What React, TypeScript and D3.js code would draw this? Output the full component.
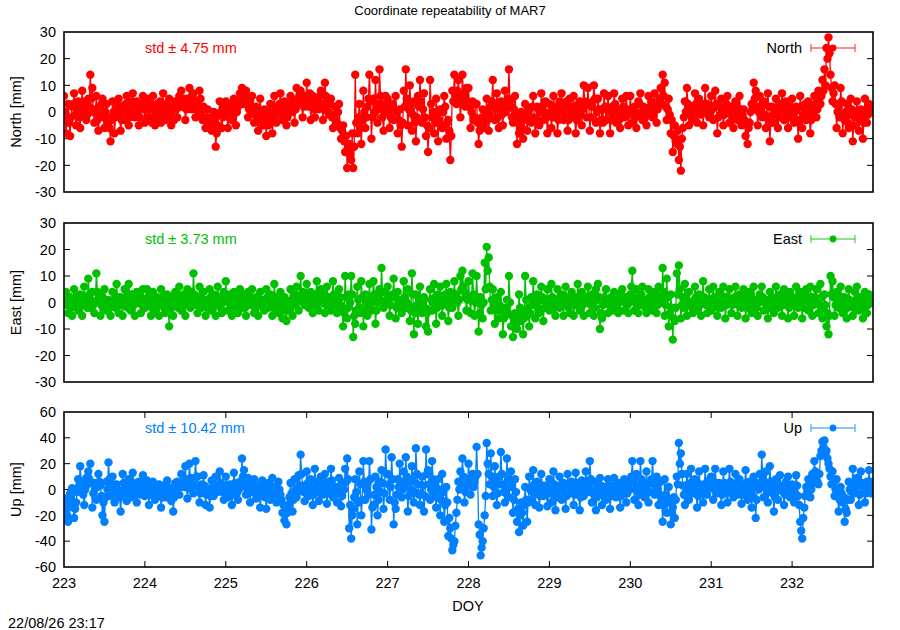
import * as d3 from "d3";

// Sampling grid of the time series (day of year, 0.0125 d steps)
const START_DOY = 223;
const STEP = 0.0125;

const X_TICKS = [223, 224, 225, 226, 227, 228, 229, 230, 231, 232];
const Y_TICKS_NE = [-30, -20, -10, 0, 10, 20, 30];
const Y_TICKS_UP = [-60, -40, -20, 0, 20, 40, 60];

const LABELS = ["North [mm]", "East [mm]", "Up [mm]"];
const KEYS = ["North", "East", "Up"];
const STD_TEXT = ["std \u00b1 4.75 mm", "std \u00b1 3.73 mm", "std \u00b1 10.42 mm"];
const COLORS = ["#ff0000", "#00c000", "#0080ff"];

// one row per day, 80 samples each
const north = [
  6, 0, -8, -3, 3, -4, -9, -2, 2, 3, 7, -1, -5, 1, 4, -2, -6, 2, 8, -1, 1, 4, -3, -1, 5, 2, 14, 5, 9, 0, -4, 1, 6, -3, -7, -1, 2, 3, 5, -2,
  -6, 0, 3, -4, -2, -6, -11, -3, 4, 0, -8, -2, 1, 3, 5, -1, -7, -3, 2, 1, -3, 3, 6, -1, -5, -2, 1, 4, 7, 2, -2, 0, 4, -1, -5, -2, 2, 3, 6, 1,
  -4, 1, 5, -2, 1, 3, -2, -4, 6, 2, -5, 0, 3, -3, 0, 4, -4, 1, 7, -2, 2, 3, -3, 0, 5, -1, -5, 2, 1, -3, 4, 1, -2, 3, 6, 2, 8, 4, 2, 5,
  -3, 1, 5, 3, 9, 4, 1, 6, 7, 2, -2, 4, 3, 0, 8, 5, -1, -3, 2, -2, -6, -3, 1, -4, -4, -2, -7, -5, 0, -3, -13, -8, -5, -1, 4, 0, -6, -2, 2, 1,
  4, 0, -6, -2, 1, 3, -3, -1, 5, 2, -5, 0, 2, 4, 7, 3, 9, 5, 3, 6, 8, 4, -2, 1, 4, 2, 6, 0, -4, -1, 2, -3, -7, -2, 5, 0, -3, -5, 1, -2,
  -9, -4, -5, 0, 3, -2, -8, -3, 6, 1, -4, -1, 1, 3, 7, 2, -3, 0, 4, -1, -5, -2, 2, 3, 6, 2, 0, 4, -4, 1, 9, 5, 3, 6, 8, 4, -2, 2, 6, 3,
  11, 5, 2, 7, -3, 3, 6, 1, -2, 4, 5, 2, 1, 6, 8, 3, -3, 2, 11, 6, 4, 0, -1, 3, 5, -2, -6, -1, 2, -3, -4, 0, 3, -6, -10, -7, -5, -11, -15, -9,
  -21, -14, -12, -16, -18, -8, -21, -13, 14, -4, -8, -2, 3, -6, -12, -3, 8, 0, -6, -2, 2, 5, 14, 4, -10, -2, 5, 0, 12, 3, -4, 1, 16, 6, 3, -2, -7, 0, 6, 2,
  5, 0, -6, -2, 2, 3, -3, 1, 6, 0, -8, -3, 1, -5, -13, -4, 8, 2, 16, 5, -5, 1, 10, 3, -7, -1, 4, -4, -11, -2, 6, 2, 12, 4, -4, 1, 7, -2, -9, -5,
  -15, -6, 12, 3, -2, 0, -8, -4, 5, -1, -11, -3, 1, -5, -6, 0, 6, 2, -10, -4, -3, -7, -18, -9, 8, 4, 14, 6, 3, 8, 12, 5, -2, 3, 14, 7, 6, 2, 9, 4,
  9, 2, -6, 0, 4, -3, -2, 3, 3, -4, -12, -7, -5, -2, 1, -6, -4, 0, 5, -3, -7, -1, 2, 4, 12, 3, -3, 1, 7, -2, -6, 2, 4, -1, -5, 3, 8, 0, 1, 5,
  16, 4, 2, -2, -4, 1, 6, -1, -12, -4, -8, -2, 0, -6, -10, -3, 3, -1, -7, 0, 1, -3, -4, 2, 6, -2, -8, -3, 2, 1, -5, 0, 7, 2, -3, 0, 4, -2, -8, -1,
  3, 0, -6, -2, 6, 2, -2, 1, -8, -3, 4, 0, 7, 2, -3, -1, 2, 4, -7, -3, 5, 1, -1, 2, 6, -2, -8, -3, 0, 3, 4, -1, -5, 1, 10, 4, 3, -2, 9, 3,
  -7, -2, 2, 4, 10, 5, -4, 0, 5, 1, -8, -3, 1, -4, 7, 2, -3, 1, 6, 0, -8, -3, 2, -2, 7, 3, -4, 0, 1, -3, -6, -1, 5, 2, -2, 0, 6, 1, -5, -1,
  6, 1, -4, 0, 2, -2, -6, -1, 4, 3, 7, 0, -3, 2, 1, -2, -5, 1, 6, -1, 2, 4, -2, 0, 7, 2, -4, 1, 3, 5, 9, 3, 14, 6, 11, 2, -3, 1, 5, -1,
  -8, -3, -15, -9, -5, -11, -12, -7, -18, -13, -22, -10, -6, -2, 4, 0, 9, 3, -5, 0, 2, -2, -3, 1, 7, 3, -4, 0, 5, -1, 1, 3, -5, 0, 9, 2, 3, -1, -2, 1,
  6, 1, -3, 2, 8, 3, -8, -2, 2, -1, 5, 0, -5, -1, 1, 3, 6, 2, -4, 0, 2, -2, -6, -1, 4, 2, -3, 0, 6, 1, -5, -1, 1, -3, -9, -4, -12, -6, -4, 0,
  3, 1, 11, 5, 8, 2, -5, 0, 6, 1, -2, 3, 4, -1, -6, -2, 7, 2, -11, -4, 2, -1, -4, 1, 5, 0, -6, -2, 1, 3, 7, 2, -3, 0, 4, 1, -6, -2, 2, 0,
  5, 1, -4, 0, 2, -3, -10, -4, 6, 2, -6, -1, 1, 3, -3, 0, 4, -2, -8, -3, 2, 0, 6, 3, -2, 1, 8, 5, 3, 6, 12, 8, 16, 10, 24, 20, 28, 22, 14, 9,
  4, 7, 10, 3, -6, 0, 2, -2, 9, 4, -8, -2, -3, 0, 3, -4, -6, -1, 5, 1, -11, -5, -2, 0, 4, -1, -7, -3, 1, -2, -10, -4, 5, 0, -4, -1, 3, 1, 2, 0,
];

const east = [
  0, 2, 4, -1, -4, 1, 2, -2, -5, 0, 5, 2, 1, -2, -3, 1, 3, -1, -5, 0, 6, 2, 0, -2, 9, 3, -2, 1, 4, -1, -4, 0, 11, 4, 3, 1, -5, -1, 2, -2,
  5, 1, -3, 0, 1, -2, -5, 0, 4, 1, 0, -2, 7, 2, -4, 0, 2, -1, -5, 1, 5, 2, 1, -2, 7, 3, -3, 0, 3, -1, -5, 1, 4, 0, 1, 2, -4, -1, 5, 1,
  -2, 1, 5, 2, 1, -1, -5, -2, 4, 0, -3, 1, 2, -1, -5, 0, 5, 2, 0, -2, -4, 1, 3, -1, -9, -3, 2, 0, -5, -1, 4, 2, 1, -2, 6, 1, -3, 0, 3, -1,
  -5, 1, 5, 2, 0, -2, 4, 0, 11, 3, 2, -1, -4, 1, 6, 2, -2, 0, 4, -1, -5, 1, 1, -2, 5, 2, -3, 0, 3, -1, -5, 1, 6, 2, 0, -2, -4, 0, 4, 1,
  8, 2, -3, 0, 3, -1, -5, 1, 4, -2, 1, 2, -4, 0, 5, -1, -2, 1, 3, -2, -5, 0, 4, 2, 0, -1, 5, 1, -4, -2, 2, 0, -5, -1, 4, 1, 1, -2, -3, 0,
  5, 2, -2, -1, 3, 1, -5, -2, 7, 2, 1, -1, -4, 0, 4, 1, -6, -2, 2, -3, -7, -2, 0, -3, 5, 1, -5, -1, 3, 0, 6, 2, -3, 1, 10, 3, 4, 0, -1, 2,
  7, 2, -2, 1, 4, 0, -4, -1, 2, 3, 8, 2, -3, 0, 5, 1, 0, 3, -4, -1, 6, 2, 2, 0, -3, 1, 8, 3, 1, -1, -4, 0, 5, 2, -1, -3, -9, -4, 10, 2,
  -6, -2, 3, 0, 10, 3, -13, -5, -8, -3, 6, 1, -2, -4, 8, 2, -9, -3, 3, 0, -5, -1, 7, 2, -3, 0, 8, 3, -8, -3, 2, 0, 5, 1, 13, 4, -2, 0, 4, 1,
  6, 1, -5, -1, 2, 3, 9, 2, -6, -2, 4, 0, 1, -2, -4, 1, 8, 2, -2, 0, 5, -1, -7, -3, 11, 3, -12, -4, 3, -1, -8, -3, 6, 1, -4, 0, 2, -2, -9, -4,
  -11, -3, 5, 1, -3, 0, 7, 2, -8, -2, 3, 0, 6, 1, -5, -1, 1, 3, 7, 2, -7, -2, 4, 0, -2, 1, 8, 3, 3, 0, -5, 1, 10, 5, 12, 6, 4, 2, -3, 1,
  8, 2, -4, 1, 11, 3, -5, 0, 10, 2, -11, -4, 2, -1, -6, 0, 15, 5, 21, 12, 17, 6, -3, 1, 5, -1, -8, -3, 2, -2, -6, -1, 4, -3, -12, -6, -5, -2, 1, -4,
  10, 0, -9, -5, -13, -7, -4, -8, -10, -6, 3, -2, -7, -4, -12, -6, 10, 1, -5, -2, -9, -4, 2, -1, 8, 2, -6, 0, 3, -2, -4, 1, 6, 2, -7, -2, 1, -1, 5, 1,
  -3, 1, 7, 2, 0, -2, -5, -1, 5, 1, -2, 0, 3, -1, -5, 1, 6, 2, 1, -2, -4, 0, 4, 1, -5, -1, 2, 0, 7, 2, -3, 1, 4, -1, -5, 0, 1, 2, 6, 1,
  -4, -1, 3, 0, -5, -2, 5, 1, 7, 2, -10, -4, -6, -1, 2, 0, 5, 1, -4, -1, 1, 2, -3, 0, 4, 1, 0, -2, -4, 0, 3, 1, 5, 2, -3, 0, 2, -1, -4, 0,
  3, 6, 12, 2, -3, 0, 5, 1, -4, -1, 2, 3, 6, 1, 0, -2, -4, 1, 5, 2, 1, -1, -3, 0, 4, 1, -4, -1, 6, 2, 2, 0, 13, 4, -5, -1, 9, 2, -9, -4,
  3, -2, -14, -6, -7, -2, 11, 3, 14, 5, -6, -1, 2, -2, 7, 2, -5, -1, 4, 0, 0, -2, -4, 1, 6, 2, -3, 0, 3, -1, -5, 1, 8, 2, 1, -1, -4, 0, 5, 1,
  -3, 1, 6, 2, 1, -1, -5, -2, 4, 0, -2, 1, 6, 2, -6, -1, 2, 0, 5, 1, -4, -1, 1, 2, 6, 1, -5, -1, 3, 0, -2, 1, 5, 2, -6, -2, 1, 0, 4, 2,
  -4, -1, 6, 1, 0, -2, -5, 0, 3, 1, 6, 2, -3, 0, 1, -1, -6, -2, 4, 1, 2, 0, -4, -1, 6, 2, -2, 0, 3, 1, -5, -1, 5, 2, 0, -1, -6, -2, 4, 1,
  2, 0, -5, -1, 6, 2, -2, 1, 4, 0, -6, -2, 1, 3, 5, 1, -3, 0, 6, 2, -5, -1, 2, 0, 5, 1, -4, -1, 7, 2, -6, -2, 3, -1, -9, -4, -12, -5, 10, 3,
  8, 2, -5, -1, 4, 1, -2, 0, 6, 2, -4, -1, 2, 0, -6, -2, 5, 1, 0, -1, -5, -2, 4, 1, 6, 2, -3, 0, 2, -1, -6, -2, 4, 1, -4, -1, 3, 1, 0, 2,
];

const up = [
  -7, -12, -17, -20, -25, -10, -3, -6, 1, -14, -22, -15, -10, -2, 8, 3, 18, 6, 2, -4, -12, 0, 9, 4, 14, 8, 20, 5, -14, -3, 5, 1, -8, 2, 12, 6, 3, -5, -20, -10,
  -25, -6, 6, 0, 21, 8, -5, 2, 10, 4, -10, -2, 4, 0, -3, -6, -17, -4, 12, 5, 1, -3, -9, 0, 8, 3, -6, -1, 13, 5, 2, -4, -10, -2, 6, 1, -4, 3, 11, 4,
  -5, 0, 7, 2, -12, -4, 2, -2, 6, 1, -8, -3, 0, 3, 4, -1, -14, -6, 3, 0, -6, -2, 7, 2, 1, -4, -9, -2, -17, -6, 5, 0, 6, 2, -4, 3, 12, 5, 2, 8,
  18, 6, -7, 1, 20, 9, 8, 3, -3, 4, 22, 10, 10, 2, -10, -3, 4, 0, 11, 3, -12, -4, 1, -2, -14, -5, 7, 1, -5, -1, 10, 3, -2, 2, 14, 5, 3, -2, -8, 0,
  10, 3, -6, 0, 4, -2, -12, -4, 13, 5, 2, -3, -8, 0, 6, 2, 24, 10, 15, 5, -4, 1, 9, 3, -10, -2, 4, 0, 8, 2, -7, -3, 3, 0, -14, -5, 7, 1, -3, -6,
  -15, -5, 5, 0, -8, -3, 9, 2, 2, -4, -10, -2, 6, 0, -4, -8, -18, -12, -24, -16, -27, -18, -12, -6, 5, -3, -17, -8, 8, 0, -6, -2, 11, 3, 27, 12, 3, -2, -9, 0,
  14, 5, -5, 2, 8, 0, -12, -4, 16, 6, 3, -2, -9, 0, 10, 4, -4, 2, 12, 5, -11, -3, 6, 0, 16, 7, -6, 1, 2, -3, -10, -2, 9, 3, -13, -5, 5, 0, 16, 6,
  24, 8, -30, -12, -38, -20, -15, -6, 8, -2, -27, -10, 14, 4, -20, -8, 22, 6, -8, 0, 4, -4, 22, 8, -31, -14, -12, -4, 10, 2, -20, -8, 6, -2, 15, 5, -15, -3, 31, 12,
  12, 4, -8, 2, 25, 8, -27, -10, -15, -4, 8, 2, 20, 6, -6, 0, 14, 4, 25, 10, -17, -5, 6, 0, 18, 7, -10, -2, 32, 12, 4, -4, -12, -3, 10, 3, -17, -5, 31, 12,
  15, 4, -8, 0, 22, 8, 3, -4, -14, -6, 8, 0, -20, -8, 12, -2, -25, -12, 2, -10, -36, -22, -30, -38, -47, -43, -40, -28, -18, -8, 6, 0, 14, 5, 24, 10, -10, -2, 8, 3,
  20, 8, -4, 4, 12, 2, 6, 10, 33, 12, -27, -35, -51, -45, -40, -30, -20, -5, 36, 20, 12, 4, 28, 10, -5, 2, 18, 6, -12, -3, 10, 4, 29, 12, 4, -2, -10, 0, 24, 8,
  -6, 2, 14, 4, -18, -8, 8, -2, -25, -15, -33, -20, -10, -18, -28, -12, 2, -8, -25, -10, 10, 0, -8, -2, 15, 4, -12, -3, 6, 0, -14, -5, 12, 3, -5, 0, 3, -4, -13, -3,
  8, 0, -10, -3, 14, 4, -16, -6, 2, -2, 10, 3, -8, 0, 5, -3, -15, -5, 12, 4, -3, 2, 6, -1, -12, -4, 13, 5, 0, -3, -16, -6, 7, 1, -5, 2, 14, 5, 3, -2,
  22, 8, -10, -3, 6, 0, -16, -6, 4, -2, 9, 3, -12, -4, 2, 0, -8, -2, 8, 3, -15, -5, 3, 0, 9, 2, -6, -1, 5, -3, -14, -5, 2, 3, 8, 1, -10, -3, 4, 0,
  6, 10, 22, 6, -8, 0, 12, 3, -12, -4, 22, 8, 3, -2, -6, 0, 14, 4, -10, -2, 5, 8, 22, 6, -4, 2, 10, 0, -12, -4, 6, -8, -25, -12, 8, -4, -18, -8, 2, -10,
  -27, -18, -14, -6, -22, -8, 10, 4, 36, 20, 28, 12, 3, -4, -12, -2, 12, 4, -8, 0, 16, 6, -3, 2, 8, 0, -14, -5, 14, 4, 2, -2, -10, -3, 16, 5, -4, 1, 7, 2,
  10, 2, -8, 0, 16, 5, -3, 2, 5, -2, -12, -4, 14, 5, 2, -3, -10, -2, 16, 6, 4, 0, -6, 2, 12, 4, -4, 0, 8, -2, -11, -4, 3, 1, 15, 5, -8, -2, 6, 0,
  -14, -5, 10, 2, -22, -8, 5, 0, 12, 4, 27, 10, -6, 2, 14, 5, -10, -2, 18, 6, 3, -3, -17, -6, 8, 2, -8, 0, 11, 3, 2, -2, -12, -4, 6, 0, 10, 3, -6, 1,
  4, 0, -10, -3, 11, 3, -5, -12, -25, -32, -38, -22, -14, -5, 2, -2, 8, 2, -6, 0, 12, 5, 22, 14, 10, 6, 4, 12, 26, 30, 37, 33, 38, 28, 30, 24, 20, 16, 10, 4,
  14, 6, -5, 0, 8, -4, -17, -8, 2, -3, -10, -6, -25, -15, -18, -8, 6, 0, -8, -2, 16, 5, -3, 2, 9, 3, -12, -4, 14, 5, 2, -2, -10, -3, 6, 1, 15, 6, -3, 2,
];

const SERIES = [north, east, up];
const Y_DOMAINS: [number, number][] = [[-30, 30], [-30, 30], [-60, 60]];
const Y_TICKS = [Y_TICKS_NE, Y_TICKS_NE, Y_TICKS_UP];

const W = 900;
const H = 630;
const LEFT = 64;
const RIGHT = 873;
const BOXES = [
  { top: 32, bottom: 192 },
  { top: 223, bottom: 382 },
  { top: 412, bottom: 567 },
];
const FONT = "'Liberation Sans', Arial, Helvetica, sans-serif";
const TICK = 6;
const MARK_R = 4.2;

const x = d3.scaleLinear().domain([223, 233]).range([LEFT, RIGHT]);

function Panel({ idx }: { idx: number }) {
  const box = BOXES[idx];
  const values = SERIES[idx];
  const color = COLORS[idx];
  const y = d3.scaleLinear().domain(Y_DOMAINS[idx]).range([box.bottom, box.top]);
  const pts = values.map((v, i) => [x(START_DOY + i * STEP), y(v)] as [number, number]);
  const line = d3.line()(pts) ?? "";
  const inner = Y_TICKS[idx].slice(1, -1);
  const isLast = idx === BOXES.length - 1;
  const midY = (box.top + box.bottom) / 2;
  const keyY = box.top + 16;

  return (
    <g>
      <clipPath id={`clip${idx}`}>
        <rect x={LEFT} y={box.top} width={RIGHT - LEFT} height={box.bottom - box.top} />
      </clipPath>
      {/* y ticks, both sides */}
      {inner.map((t) => (
        <g key={t} stroke="#000" strokeWidth={1}>
          <line x1={LEFT} x2={LEFT + TICK} y1={y(t)} y2={y(t)} />
          <line x1={RIGHT - TICK} x2={RIGHT} y1={y(t)} y2={y(t)} />
        </g>
      ))}
      {isLast &&
        X_TICKS.slice(1).map((t) => (
          <g key={t} stroke="#000" strokeWidth={1}>
            <line x1={x(t)} x2={x(t)} y1={box.bottom} y2={box.bottom - TICK} />
            <line x1={x(t)} x2={x(t)} y1={box.top} y2={box.top + TICK} />
          </g>
        ))}
      <g clipPath={`url(#clip${idx})`}>
        <path d={line} fill="none" stroke={color} strokeWidth={1.3} />
        {pts.map(([px, py], i) => (
          <circle key={i} cx={px} cy={py} r={MARK_R} fill={color} />
        ))}
      </g>
      <rect
        x={LEFT}
        y={box.top}
        width={RIGHT - LEFT}
        height={box.bottom - box.top}
        fill="none"
        stroke="#000"
        strokeWidth={1.6}
      />
      {Y_TICKS[idx].map((t) => (
        <text
          key={t}
          x={LEFT - 8}
          y={y(t)}
          dy="0.36em"
          textAnchor="end"
          fontSize={14.5}
          fontFamily={FONT}
        >
          {t}
        </text>
      ))}
      <text
        transform={`translate(21,${midY}) rotate(-90)`}
        textAnchor="middle"
        fontSize={14.5}
        fontFamily={FONT}
      >
        {LABELS[idx]}
      </text>
      <text x={145} y={keyY} dy="0.36em" fontSize={14.5} fontFamily={FONT} fill={color}>
        {STD_TEXT[idx]}
      </text>
      {/* key */}
      <text x={802} y={keyY} dy="0.36em" textAnchor="end" fontSize={14.5} fontFamily={FONT}>
        {KEYS[idx]}
      </text>
      <g stroke={color} strokeOpacity={0.6} strokeWidth={1.4}>
        <line x1={811} x2={855} y1={keyY} y2={keyY} />
        <line x1={811} x2={811} y1={keyY - 4} y2={keyY + 4} />
        <line x1={855} x2={855} y1={keyY - 4} y2={keyY + 4} />
      </g>
      <circle cx={833} cy={keyY} r={3.4} fill={color} />
    </g>
  );
}

export default function App() {
  const last = BOXES[BOXES.length - 1];
  return (
    <svg
      width={W}
      height={H}
      viewBox={`0 0 ${W} ${H}`}
      style={{ position: "absolute", left: 0, top: 0, background: "#fff" }}
    >
      <rect width={W} height={H} fill="#fff" />
      <text x={450} y={15} textAnchor="middle" fontSize={13} fontFamily={FONT}>
        Coordinate repeatability of MAR7
      </text>
      {BOXES.map((_, i) => (
        <Panel key={i} idx={i} />
      ))}
      {X_TICKS.map((t) => (
        <text
          key={t}
          x={x(t)}
          y={last.bottom + 21}
          textAnchor="middle"
          fontSize={14.5}
          fontFamily={FONT}
        >
          {t}
        </text>
      ))}
      <text x={468} y={611} textAnchor="middle" fontSize={14.5} fontFamily={FONT}>
        DOY
      </text>
      <text x={8} y={628} fontSize={14.5} fontFamily={FONT}>
        22/08/26 23:17
      </text>
    </svg>
  );
}
